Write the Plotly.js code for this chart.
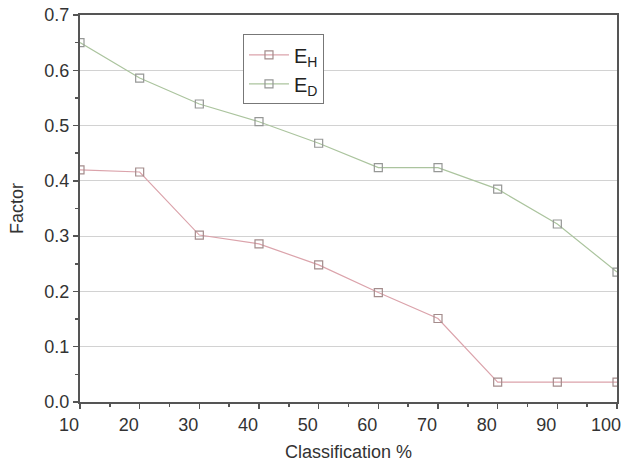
<!DOCTYPE html>
<html>
<head>
<meta charset="utf-8">
<script src="https://cdn.plot.ly/plotly-3.0.1.min.js"></script>
<style>html,body{margin:0;padding:0;background:#fff;}#chart{width:621px;height:465px;}</style>
</head>
<body>
<div id="chart"></div>
<script>
const classification = [10, 20, 30, 40, 50, 60, 70, 80, 90, 100];
const eH = [0.420, 0.416, 0.302, 0.286, 0.248, 0.198, 0.151, 0.036, 0.036, 0.036];
const eD = [0.650, 0.586, 0.539, 0.507, 0.468, 0.424, 0.424, 0.385, 0.322, 0.235];
const xTicks = [10, 20, 30, 40, 50, 60, 70, 80, 90, 100];
const yTicks = [0.0, 0.1, 0.2, 0.3, 0.4, 0.5, 0.6, 0.7];
const yTickText = ['0.0', '0.1', '0.2', '0.3', '0.4', '0.5', '0.6', '0.7'];

const traces = [
  {
    x: classification, y: eH, name: 'E<sub>H</sub>', type: 'scatter', mode: 'lines+markers',
    line: {color: '#dba3ab', width: 1.2},
    marker: {symbol: 'square-open', size: 8, color: '#a48c8c', line: {width: 1.2}}
  },
  {
    x: classification, y: eD, name: 'E<sub>D</sub>', type: 'scatter', mode: 'lines+markers',
    line: {color: '#abc49e', width: 1.2},
    marker: {symbol: 'square-open', size: 8, color: '#969896', line: {width: 1.2}}
  }
];

const axisFont = {family: 'Liberation Sans, Arial, sans-serif', size: 18, color: '#333'};

const layout = {
  width: 621, height: 465,
  margin: {l: 80, r: 4, t: 15, b: 63},
  paper_bgcolor: '#fff', plot_bgcolor: '#fff',
  font: axisFont,
  showlegend: true,
  legend: {
    x: 0.3035, y: 0.95, xanchor: 'left', yanchor: 'top',
    bordercolor: '#777', borderwidth: 1, bgcolor: '#fff',
    font: {family: 'Liberation Sans, Arial, sans-serif', size: 20, color: '#222'},
    itemwidth: 40, tracegroupgap: 0
  },
  xaxis: {
    range: [10, 100], tickvals: xTicks, ticktext: xTicks.map(String),
    showline: true, linecolor: '#555', linewidth: 2, mirror: true,
    ticks: 'outside', ticklen: 5, tickwidth: 1.5, tickcolor: '#555',
    minor: {dtick: 5, ticks: 'outside', ticklen: 3, tickwidth: 1.5, tickcolor: '#555', showgrid: false},
    showgrid: false, zeroline: false,
    tickfont: axisFont, ticklabelshift: -11, ticklabeloverflow: 'allow',
    title: {text: 'Classification %', font: axisFont, standoff: 12}
  },
  yaxis: {
    range: [0, 0.7], tickvals: yTicks, ticktext: yTickText,
    showline: true, linecolor: '#555', linewidth: 2, mirror: true,
    ticks: 'outside', ticklen: 5, tickwidth: 1.5, tickcolor: '#555',
    minor: {dtick: 0.05, tick0: 0, ticks: 'outside', ticklen: 3, tickwidth: 1.5, tickcolor: '#555', showgrid: false},
    showgrid: true, gridcolor: '#d2d2d2', gridwidth: 1, zeroline: false,
    tickfont: axisFont, ticklabeloverflow: 'allow',
    title: {text: 'Factor', font: axisFont, standoff: 16}
  }
};

Plotly.newPlot('chart', traces, layout, {displayModeBar: false, staticPlot: true});
</script>
</body>
</html>
